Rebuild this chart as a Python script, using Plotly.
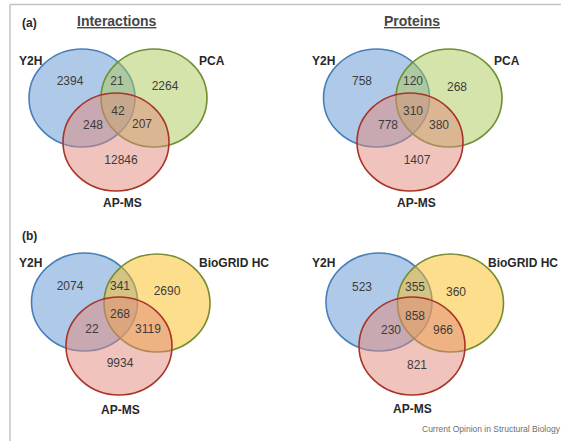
import plotly.graph_objects as go

# ---------------- data ----------------
panel_titles = ["Interactions", "Proteins"]
panel_tags = ["(a)", "(b)"]
set_names_a = ["Y2H", "PCA", "AP-MS"]
set_names_b = ["Y2H", "BioGRID HC", "AP-MS"]
# region order: only1, only2, 1&2, 1&2&3, 1&3, 2&3, only3
interactions_a = [2394, 2264, 21, 42, 248, 207, 12846]
proteins_a = [758, 268, 120, 310, 778, 380, 1407]
interactions_b = [2074, 2690, 341, 268, 22, 3119, 9934]
proteins_b = [523, 360, 355, 858, 230, 966, 821]
footer = "Current Opinion in Structural Biology"

# ---------------- layout (pixel geometry) ----------------
W, H = 561, 441
FONT = "Liberation Sans, Arial, sans-serif"
RX, RY = 53, 49

panels = [
    dict(vals=interactions_a, names=set_names_a, c=[(82, 98), (154, 98), (116, 142)], second="green",
         txt=[(70, 82), (165, 87), (117, 82), (118, 112), (93, 126), (142, 125), (121, 161)],
         lab=[(30, 61, "center"), (212, 61, "center"), (122, 203, "center")]),
    dict(vals=proteins_a, names=set_names_a, c=[(376.5, 98), (449, 98), (410, 142)], second="green",
         txt=[(362, 82), (457, 88), (413, 82), (413, 112), (388, 126), (439, 126), (417, 161)],
         lab=[(323, 61, "center"), (507, 61, "center"), (416, 203, "center")]),
    dict(vals=interactions_b, names=set_names_b, c=[(84.5, 302), (157, 303), (119, 346)], second="yellow",
         txt=[(70, 287), (167, 292), (120, 287), (120, 315), (92, 330), (148, 330), (120, 364)],
         lab=[(30, 263, "center"), (234, 263, "center"), (120, 410, "center")]),
    dict(vals=proteins_b, names=set_names_b, c=[(379, 302), (450.5, 303), (412, 346)], second="yellow",
         txt=[(362, 288), (456, 293), (415, 288), (415, 317), (391, 331), (443, 331), (417, 366)],
         lab=[(323, 263, "center"), (560, 263, "right"), (412, 409, "center")]),
]

FILL = {
    "blue": ("rgba(95,148,210,0.5)", "rgb(70,128,188)"),
    "green": ("rgba(171,201,85,0.5)", "rgb(112,142,52)"),
    "yellow": ("rgba(249,189,25,0.5)", "rgb(118,140,50)"),
    "red": ("rgba(225,135,121,0.5)", "rgb(168,52,40)"),
}

fig = go.Figure()
shapes = []
annotations = []

for p in panels:
    kinds = ["blue", p["second"], "red"]
    for (cx, cy), k in zip(p["c"], kinds):
        fc, lc = FILL[k]
        shapes.append(dict(type="circle", xref="x", yref="y",
                           x0=cx - RX, x1=cx + RX, y0=cy - RY, y1=cy + RY,
                           fillcolor=fc, line=dict(color=lc, width=1.6), layer="below"))
    fig.add_trace(go.Scatter(
        x=[t[0] for t in p["txt"]], y=[t[1] for t in p["txt"]],
        text=[str(v) for v in p["vals"]], mode="text",
        textfont=dict(family=FONT, size=12, color="rgb(60,60,60)"),
        hoverinfo="skip", showlegend=False, cliponaxis=False))
    for (lx, ly, anc), name in zip(p["lab"], p["names"]):
        annotations.append(dict(x=lx, y=ly, xref="x", yref="y", text="<b>" + name + "</b>",
                                showarrow=False, font=dict(family=FONT, size=12, color="rgb(40,40,40)"),
                                xanchor=anc, yanchor="middle"))

for title, x in zip(panel_titles, [117, 412]):
    annotations.append(dict(x=x, y=21, xref="x", yref="y", text="<b><u>" + title + "</u></b>",
                            showarrow=False, font=dict(family=FONT, size=14, color="rgb(70,70,70)"),
                            xanchor="center", yanchor="middle"))
for tag, y in zip(panel_tags, [23, 236]):
    annotations.append(dict(x=20, y=y, xref="x", yref="y", text="<b>" + tag + "</b>",
                            showarrow=False, font=dict(family=FONT, size=12, color="rgb(40,40,40)"),
                            xanchor="left", yanchor="middle"))
annotations.append(dict(x=420, y=429, xref="x", yref="y", text=footer, showarrow=False,
                        font=dict(family=FONT, size=8.5, color="rgb(110,110,110)"),
                        xanchor="left", yanchor="middle"))

shapes.append(dict(type="line", xref="x", yref="y", x0=10, x1=W, y0=4.5, y1=4.5,
                   line=dict(color="rgb(195,195,195)", width=1.5)))
shapes.append(dict(type="line", xref="x", yref="y", x0=10, x1=10, y0=4.5, y1=H,
                   line=dict(color="rgb(195,195,195)", width=1.5)))

fig.update_layout(
    width=W, height=H, margin=dict(l=0, r=0, t=0, b=0),
    paper_bgcolor="white", plot_bgcolor="white",
    xaxis=dict(range=[0, W], visible=False, fixedrange=True),
    yaxis=dict(range=[H, 0], visible=False, fixedrange=True),
    shapes=shapes, annotations=annotations, showlegend=False,
)
fig.write_html(
    "out.html",
    config={"displayModeBar": False},
    post_script="document.body.style.margin='0';document.body.style.overflow='hidden';",
)
